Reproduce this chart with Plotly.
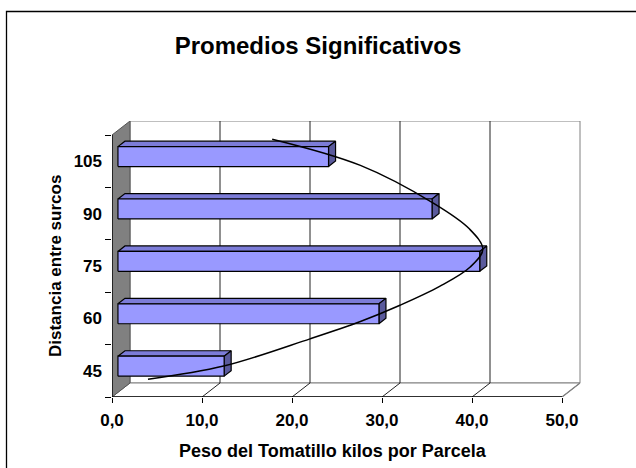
import plotly.graph_objects as go

# ---- data -------------------------------------------------------------
categorias = ["45", "60", "75", "90", "105"]          # distancia entre surcos
peso = [11.8, 29.0, 40.2, 34.9, 23.4]                 # kilos por parcela
ticks_x = [0, 10, 20, 30, 40, 50]

# freehand tendency curve drawn over the bars: (peso, category position)
curva_peso = [4.0, 12.4, 22.0, 27.6, 32.0, 36.4, 39.8, 41.2, 39.7, 35.7, 27.6, 17.8]
curva_pos = [0.84, 1.09, 1.61, 1.94, 2.25, 2.61, 2.98, 3.32, 3.71, 4.20, 4.92, 5.42]

# ---- geometry ---------------------------------------------------------
W, H = 636, 468
ML, MR, MT, MB = 112, 55, 121, 71
PX_UNIT = 9.0          # pixels per kilo on the front plane
PX_CAT = 52.4          # pixels per category slot
XMAX = (W - ML - MR) / PX_UNIT
YMIN = 0.5
YMAX = YMIN + (H - MT - MB) / PX_CAT
DX = 18 / PX_UNIT      # depth offset of the back wall (x, data units)
DY = 14 / PX_CAT       # depth offset of the back wall (y, data units)
NCAT = len(categorias)
YTOP = NCAT + 0.5
VMAX = ticks_x[-1]

BAR_FRONT, BAR_BACK = 0.33, 0.72   # bar depth position inside the box
BAR_HALF = 0.19                    # half bar height in category units

FRONT = "#9999FF"
TOP = "#7C7CD8"
SIDE = "#5A5A9C"
WALL = "#808080"


def pt(v, i, d=0.0):
    return v + d * DX, i + d * DY


def poly(points, fill, line, width=1.0):
    xs = [p[0] for p in points] + [points[0][0]]
    ys = [p[1] for p in points] + [points[0][1]]
    return go.Scatter(x=xs, y=ys, mode="lines", fill="toself", fillcolor=fill,
                      line=dict(color=line, width=width), hoverinfo="skip",
                      showlegend=False)


def seg(a, b, color, width=1.0):
    return go.Scatter(x=[a[0], b[0]], y=[a[1], b[1]], mode="lines",
                      line=dict(color=color, width=width), hoverinfo="skip",
                      showlegend=False)


traces = []

# back wall and floor
traces.append(poly([pt(0, YMIN, 1), pt(VMAX, YMIN, 1), pt(VMAX, YTOP, 1), pt(0, YTOP, 1)],
                   "white", WALL))
traces.append(poly([pt(0, YMIN, 0), pt(VMAX, YMIN, 0), pt(VMAX, YMIN, 1), pt(0, YMIN, 1)],
                   "white", WALL))
# side wall
traces.append(poly([pt(0, YMIN, 0), pt(0, YMIN, 1), pt(0, YTOP, 1), pt(0, YTOP, 0)],
                   WALL, "#555555"))

# gridlines on the back wall and their floor diagonals
for v in ticks_x[1:-1]:
    traces.append(seg(pt(v, YMIN, 1), pt(v, YTOP, 1), "#222222", 1))
    traces.append(seg(pt(v, YMIN, 0), pt(v, YMIN, 1), "#222222", 1))
traces.append(seg(pt(VMAX, YMIN, 0), pt(VMAX, YMIN, 1), WALL, 1.3))

# front axis lines
traces.append(seg(pt(0, YMIN), pt(VMAX, YMIN), "black", 1.3))
traces.append(seg(pt(0, YMIN), pt(0, YTOP), "black", 1.3))

# 3-D bars
for k, val in enumerate(peso):
    c = k + 1
    lo, hi = c - BAR_HALF, c + BAR_HALF
    f0, f1 = BAR_FRONT, BAR_BACK
    traces.append(poly([pt(0, hi, f0), pt(val, hi, f0), pt(val, hi, f1), pt(0, hi, f1)],
                       TOP, "black", 1.2))
    traces.append(poly([pt(val, lo, f0), pt(val, lo, f1), pt(val, hi, f1), pt(val, hi, f0)],
                       SIDE, "black", 1.2))
    traces.append(poly([pt(0, lo, f0), pt(val, lo, f0), pt(val, hi, f0), pt(0, hi, f0)],
                       FRONT, "black", 1.2))

# tendency curve
traces.append(go.Scatter(x=curva_peso, y=curva_pos, mode="lines",
                         line=dict(color="black", width=1.5, shape="spline", smoothing=1.0),
                         hoverinfo="skip", showlegend=False))

fig = go.Figure(traces)

FAM = "Liberation Sans, Arial"
tick_font = dict(family=FAM, size=17, color="black", weight="bold")

fig.update_layout(
    width=W, height=H,
    margin=dict(l=ML, r=MR, t=MT, b=MB, pad=0),
    paper_bgcolor="white", plot_bgcolor="white",
    separators=",.",
    title=dict(text="Promedios Significativos", x=318 / W, xanchor="center",
               y=1 - 46 / H, yanchor="middle",
               font=dict(family=FAM, size=24, color="black", weight="bold")),
    xaxis=dict(range=[0, XMAX], tickvals=ticks_x, tickformat=".1f",
               ticks="outside", ticklen=5, tickcolor="black", tickwidth=1,
               showgrid=False, zeroline=False, showline=False,
               tickfont=tick_font, ticklabelstandoff=3, fixedrange=True),
    yaxis=dict(range=[YMIN, YMAX], tickvals=list(range(1, NCAT + 1)), ticktext=categorias,
               ticks="", showgrid=False, zeroline=False, showline=False,
               tickfont=tick_font, ticklabelstandoff=9, fixedrange=True,
               minor=dict(tickvals=[i + 0.5 for i in range(NCAT + 1)], ticks="outside",
                          ticklen=6, tickcolor="black", tickwidth=1, showgrid=False)),
    annotations=[
        dict(text="Peso del Tomatillo kilos por Parcela", xref="paper", yref="paper",
             x=(333 - ML) / (W - ML - MR), y=-(451 - (H - MB)) / (H - MT - MB),
             xanchor="center", yanchor="middle", showarrow=False,
             font=dict(family=FAM, size=18, color="black", weight="bold")),
        dict(text="Distancia entre surcos", xref="paper", yref="paper", textangle=-90,
             x=(55 - ML) / (W - ML - MR), y=((H - MB) - 266) / (H - MT - MB),
             xanchor="center", yanchor="middle", showarrow=False,
             font=dict(family=FAM, size=17, color="black", weight="bold")),
    ],
    shapes=[
        dict(type="rect", xref="paper", yref="paper",
             x0=(6.5 - ML) / (W - ML - MR), x1=(W + 10 - ML) / (W - ML - MR),
             y0=-(H + 10 - (H - MB)) / (H - MT - MB), y1=((H - MB) - 11.5) / (H - MT - MB),
             line=dict(color="black", width=1.3), layer="below"),
    ],
)

fig.write_html("out.html")
